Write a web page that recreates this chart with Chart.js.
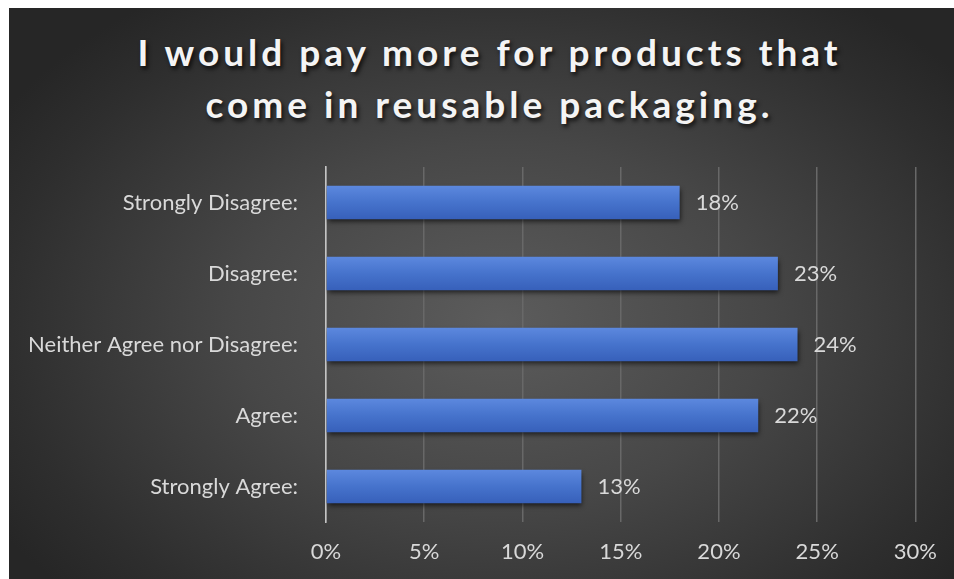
<!DOCTYPE html>
<html>
<head>
<meta charset="utf-8">
<script src="https://cdn.jsdelivr.net/npm/chart.js@4.4.1/dist/chart.umd.min.js"></script>
<style>
  html, body { margin: 0; padding: 0; background: #fff; }
  body { width: 954px; height: 579px; position: relative; overflow: hidden; }
  #panel {
    position: absolute; left: 9px; top: 8px; width: 945px; height: 571px;
    background: radial-gradient(ellipse 62% 70% at 52% 55%, #5c5c5c 0%, #474747 45%, #2e2e2e 85%, #262626 100%);
  }
  #title {
    position: absolute; left: 8px; top: 18px; width: 945px; text-align: center;
    font-family: Lato, "Open Sans", sans-serif; font-weight: bold; font-size: 37px;
    line-height: 52px; letter-spacing: 4px; color: #f4f4f4;
    text-shadow: 2px 3px 4px rgba(0, 0, 0, 0.75);
  }
  #chartBox { position: absolute; left: 0; top: 0; width: 945px; height: 571px; }
</style>
</head>
<body>
<div id="panel">
  <div id="title">I would pay more for products that<br>come in reusable packaging.</div>
  <div id="chartBox"><canvas id="surveyChart"></canvas></div>
</div>
<script>
// survey answers, top to bottom
const answers = [
    'Strongly Disagree:',
    'Disagree:',
    'Neither Agree nor Disagree:',
    'Agree:',
    'Strongly Agree:'
];
// share of respondents, in percent
const shares = [18, 23, 24, 22, 13];
// x axis ticks, in percent
const xTicks = [0, 5, 10, 15, 20, 25, 30];

const labelColor = '#d9d9d9';
const labelFont = { family: 'Lato, "Open Sans", sans-serif', size: 22 };
const BAR_PCT = 0.47;

// vertical blue gradient per bar, lighter at the top edge
function barFill(ctx) {
    const chart = ctx.chart;
    const area = chart.chartArea;
    const yScale = chart.scales.y;
    if (!area || !yScale) return '#4472c4';
    const cy = yScale.getPixelForValue(ctx.dataIndex);
    const half = (area.bottom - area.top) / answers.length * BAR_PCT / 2;
    const g = chart.ctx.createLinearGradient(0, cy - half, 0, cy + half);
    g.addColorStop(0, '#5c88de');
    g.addColorStop(0.5, '#4673cc');
    g.addColorStop(1, '#3760ba');
    return g;
}

// drop shadow under the bars
const barShadow = {
    id: 'barShadow',
    beforeDatasetsDraw(chart) {
        const c = chart.ctx;
        c.save();
        c.shadowColor = 'rgba(0, 0, 0, 0.65)';
        c.shadowBlur = 5;
        c.shadowOffsetX = 1;
        c.shadowOffsetY = 3;
    },
    afterDatasetsDraw(chart) {
        chart.ctx.restore();
    }
};

// percent labels right of each bar
const valueLabels = {
    id: 'valueLabels',
    afterDatasetsDraw(chart) {
        const c = chart.ctx;
        const meta = chart.getDatasetMeta(0);
        c.save();
        c.fillStyle = labelColor;
        c.font = `${labelFont.size}px ${labelFont.family}`;
        c.textAlign = 'left';
        c.textBaseline = 'middle';
        meta.data.forEach((bar, i) => {
            c.fillText(shares[i] + '%', bar.x + 16, bar.y);
        });
        c.restore();
    }
};

function renderSurveyChart() {
    const canvas = document.getElementById('surveyChart');
    if (!canvas) return;

    new Chart(canvas, {
        type: 'bar',
        data: {
            labels: answers,
            datasets: [{
                data: shares,
                backgroundColor: barFill,
                borderWidth: 0,
                barPercentage: BAR_PCT,
                categoryPercentage: 1
            }]
        },
        plugins: [barShadow, valueLabels],
        options: {
            indexAxis: 'y',
            responsive: true,
            maintainAspectRatio: false,
            animation: false,
            layout: { padding: { top: 159, right: 36, bottom: 0, left: 0 } },
            plugins: {
                legend: { display: false },
                tooltip: { enabled: false }
            },
            scales: {
                x: {
                    min: 0,
                    max: 30,
                    afterBuildTicks: scale => {
                        scale.ticks = xTicks.map(v => ({ value: v }));
                    },
                    afterFit: scale => { scale.height = 57; },
                    ticks: {
                        color: labelColor,
                        font: labelFont,
                        padding: 17,
                        callback: v => v + '%'
                    },
                    grid: {
                        color: '#686868',
                        lineWidth: 1.5,
                        drawTicks: false
                    },
                    border: { display: false }
                },
                y: {
                    afterFit: scale => { scale.width = 317; },
                    ticks: {
                        color: labelColor,
                        font: labelFont,
                        padding: 28
                    },
                    grid: { display: false, drawTicks: false },
                    border: { display: true, color: '#c4c4c4', width: 1.6 }
                }
            }
        }
    });
}

document.addEventListener('DOMContentLoaded', renderSurveyChart);
</script>
</body>
</html>
